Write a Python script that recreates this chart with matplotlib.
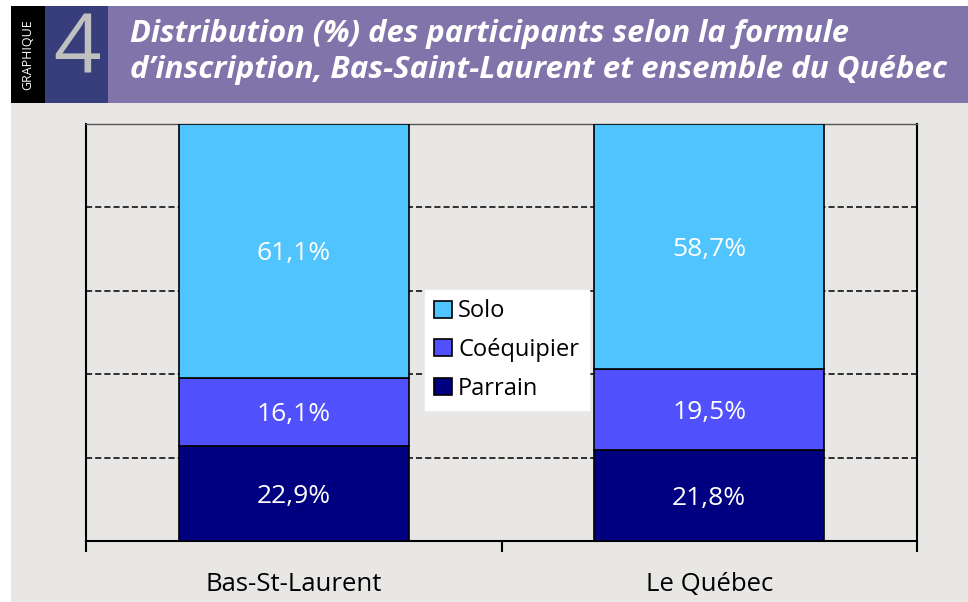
import matplotlib
matplotlib.use("Agg")
import matplotlib.pyplot as plt
from matplotlib.patches import Rectangle, Patch
import numpy as np

# Données
regions = ["Bas-St-Laurent", "Le Québec"]
formules = ["Parrain", "Coéquipier", "Solo"]
parrain = [22.9, 21.8]
coequipier = [16.1, 19.5]
solo = [61.1, 58.7]
couleurs = ["#000080", "#5050fc", "#50c4fe"]

W, H = 968, 602
fig = plt.figure(figsize=(W / 100, H / 100), dpi=100)
fig.patch.set_facecolor("white")

def fx(px):
    return px / W

def fy(py):
    return 1 - py / H

gris = "#e8e7e5"
# fond gris
fig.patches.append(Rectangle((fx(11), 0), fx(W - 11), fy(103), transform=fig.transFigure,
                             facecolor=gris, edgecolor="none", zorder=0))
# bandeau du titre
y0, y1 = fy(103), fy(6)
fig.patches.append(Rectangle((fx(11), y0), fx(34), y1 - y0, transform=fig.transFigure,
                             facecolor="black", edgecolor="none", zorder=0))
fig.patches.append(Rectangle((fx(45), y0), fx(63), y1 - y0, transform=fig.transFigure,
                             facecolor="#383e7c", edgecolor="none", zorder=0))
fig.patches.append(Rectangle((fx(108), y0), fx(W - 108), y1 - y0, transform=fig.transFigure,
                             facecolor="#8074aa", edgecolor="none", zorder=0))
fig.text(fx(28), fy(55), "GRAPHIQUE", rotation=90, color="white", fontsize=9,
         ha="center", va="center", family="Open Sans")
fig.text(fx(77), fy(52), "4", color="#c0c0c0", fontsize=60, ha="center", va="center",
         family="Open Sans", weight="normal")
fig.text(fx(130), fy(34), "Distribution (%) des participants selon la formule",
         color="white", fontsize=22.2, style="italic", weight="bold", family="Open Sans",
         ha="left", va="center")
fig.text(fx(130), fy(70), "d\u2019inscription, Bas-Saint-Laurent et ensemble du Québec",
         color="white", fontsize=22.5, style="italic", weight="bold", family="Open Sans",
         ha="left", va="center")

ax = fig.add_axes([fx(86), fy(541), fx(917 - 86), fy(124) - fy(541)])
ax.set_zorder(5)
ax.set_facecolor(gris)

x = np.arange(len(regions))
largeur = 0.554
bas = np.zeros(len(regions))
for serie, nom, c in zip([parrain, coequipier, solo], formules, couleurs):
    vals = np.array(serie)
    ax.bar(x, vals, largeur, bottom=bas, color=c, edgecolor="black", linewidth=1.2,
           label=nom, zorder=3)
    for xi, b, v in zip(x, bas, vals):
        ax.text(xi, b + v / 2, f"{v:.1f}%".replace(".", ","), color="white",
                fontsize=19, ha="center", va="center_baseline", family="Open Sans", zorder=4)
    bas = bas + vals

ax.set_xlim(-0.5, 1.5)
ax.set_ylim(0, 100)
ax.set_yticks([20, 40, 60, 80, 100])
ax.yaxis.grid(True, color="black", linestyle=(0, (4, 2)), linewidth=1.1, zorder=1)
ax.set_axisbelow(True)
ax.tick_params(axis="y", left=False, labelleft=False)
ax.set_xticks(x)
ax.set_xticklabels(regions, fontsize=18.5, family="Open Sans")
ax.tick_params(axis="x", length=0, pad=22)
ax.set_xticks([-0.5, 0.5, 1.5], minor=True)
ax.tick_params(axis="x", which="minor", length=8, width=1.5, direction="out")
for s in ["left", "right", "bottom"]:
    ax.spines[s].set_color("black")
    ax.spines[s].set_linewidth(1.5)
ax.spines["top"].set_color("#555555")
ax.spines["top"].set_linewidth(1.0)

handles = [Patch(facecolor=c, edgecolor="black", linewidth=1.2, label=n)
           for n, c in zip(formules[::-1], couleurs[::-1])]
leg = fig.legend(handles=handles, loc="upper left",
                 bbox_to_anchor=(fx(425), fy(290)), borderaxespad=0,
                 frameon=True, fancybox=False, framealpha=1, edgecolor="white",
                 handlelength=0.75, handleheight=0.75, handletextpad=0.25,
                 labelspacing=0.62, borderpad=0.4, prop={"family": "Open Sans", "size": 17})
leg.set_zorder(10)

fig.savefig("out.png", dpi=100)
